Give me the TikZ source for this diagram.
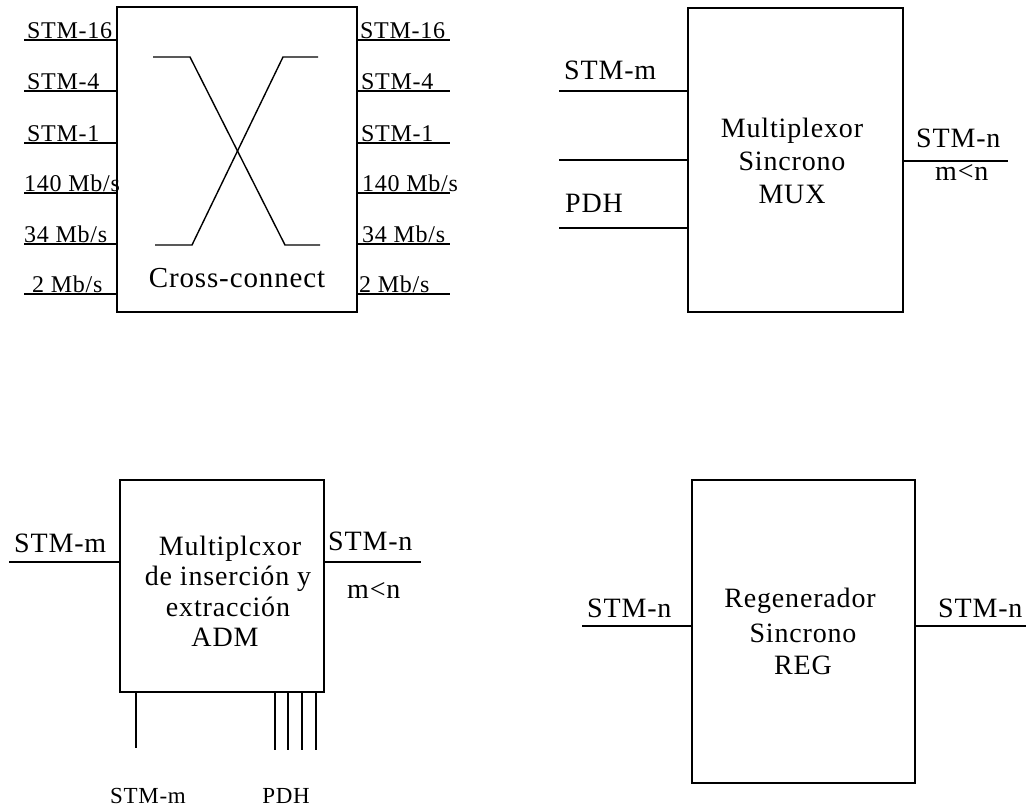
\documentclass[tikz,border=0pt]{standalone}
\usepackage{fontspec}
\setmainfont{Liberation Serif}[LetterSpace=3]
\newcommand{\fsport}{\fontsize{24}{28}\selectfont}
\newcommand{\fsbig}{\fontsize{28}{32}\selectfont}
\newcommand{\fscc}{\fontsize{29}{32}\selectfont}
\newcommand{\fsbot}{\fontsize{23}{27}\selectfont}
\begin{document}
\begin{tikzpicture}[x=1pt,y=-1pt,
  blk/.style={draw, line width=1.5pt, inner sep=0pt, fill=none},
  wire/.style={line width=1.4pt},
  portlbl/.style={inner sep=0pt, font=\fsport},
  biglbl/.style={inner sep=0pt, font=\fsbig},
  botlbl/.style={inner sep=0pt, font=\fsbot},
]
\useasboundingbox[fill=white] (0,0) rectangle (1033,811);

% ---------------- Cross-connect ----------------
\node[blk, minimum width=240pt, minimum height=305pt] (cc) at (237,159.5) {};
\foreach \y/\n in {40/1,91/2,143/3,193/4,244/5,294/6}{
  \coordinate (ccl\n) at (24,\y);
  \coordinate (ccr\n) at (450,\y);
  \draw[wire] (ccl\n) -- (ccl\n -| cc.west);
  \draw[wire] (cc.east |- ccr\n) -- (ccr\n);
}
\node[portlbl, anchor=base west] (ll1) at (27,38) {STM-16};
\node[portlbl, anchor=base west] (ll2) at (27,89) {STM-4};
\node[portlbl, anchor=base west] (ll3) at (27,141) {STM-1};
\node[portlbl, anchor=base west] (ll4) at (24,191) {140 Mb/s};
\node[portlbl, anchor=base west] (ll5) at (24,242) {34 Mb/s};
\node[portlbl, anchor=base west] (ll6) at (32,292) {2 Mb/s};
\node[portlbl, anchor=base west] (rl1) at (360,38) {STM-16};
\node[portlbl, anchor=base west] (rl2) at (361,89) {STM-4};
\node[portlbl, anchor=base west] (rl3) at (361,141) {STM-1};
\node[portlbl, anchor=base west] (rl4) at (362,191) {140 Mb/s};
\node[portlbl, anchor=base west] (rl5) at (362,242) {34 Mb/s};
\node[portlbl, anchor=base west] (rl6) at (359,292) {2 Mb/s};
\draw[wire] (153,57) -- (190,57) -- (285,245) -- (320,245);
\draw[wire] (155,245) -- (192,245) -- (283,57) -- (318,57);
\node[inner sep=0pt, font=\fscc, anchor=base] (cctxt) at (237,287) {Cross-connect};

% ---------------- MUX ----------------
\node[blk, minimum width=215pt, minimum height=304pt] (mux) at (795.5,160) {};
\coordinate (mi1) at (559,91);
\coordinate (mi2) at (559,160);
\coordinate (mi3) at (559,228);
\coordinate (mo) at (1008,161);
\draw[wire] (mi1) -- (mi1 -| mux.west);
\draw[wire] (mi2) -- (mi2 -| mux.west);
\draw[wire] (mi3) -- (mi3 -| mux.west);
\draw[wire] (mux.east |- mo) -- (mo);
\node[biglbl, anchor=base west] (muxa) at (564,79) {STM-m};
\node[biglbl, anchor=base west] (muxb) at (565,212) {PDH};
\node[biglbl, anchor=base west] (muxc) at (916,147) {STM-n};
\node[biglbl, anchor=base west] (muxd) at (935,180) {m<n};
\node[biglbl, anchor=base] (muxt1) at (792,137) {Multiplexor};
\node[biglbl, anchor=base] (muxt2) at (792,170) {Sincrono};
\node[biglbl, anchor=base] (muxt3) at (792,203) {MUX};

% ---------------- ADM ----------------
\node[blk, minimum width=204pt, minimum height=212pt] (adm) at (222,586) {};
\coordinate (ai) at (9,562);
\coordinate (ao) at (421,562);
\draw[wire] (ai) -- (ai -| adm.west);
\draw[wire] (adm.east |- ao) -- (ao);
\node[biglbl, anchor=base west] (adma) at (14,552) {STM-m};
\node[biglbl, anchor=base west] (admb) at (328,550) {STM-n};
\node[biglbl, anchor=base west] (admc) at (347,598) {m<n};
\node[biglbl, anchor=base] (admt1) at (230,555) {Multiplcxor};
\node[biglbl, anchor=base] (admt2) at (228,585) {de inserción y};
\node[biglbl, anchor=base] (admt3) at (228,616) {extracción};
\node[biglbl, anchor=base] (admt4) at (225,646) {ADM};
\coordinate (ab0) at (136,748);
\draw[wire] (adm.south -| ab0) -- (ab0);
\foreach \x/\n in {275/1,288/2,302/3,316/4}{
  \coordinate (ap\n) at (\x,750);
  \draw[wire] (adm.south -| ap\n) -- (ap\n);
}
\node[botlbl, anchor=base] (admd) at (148,803) {STM-m};
\node[botlbl, anchor=base] (adme) at (286,803) {PDH};

% ---------------- REG ----------------
\node[blk, minimum width=223pt, minimum height=303pt] (reg) at (803.5,631.5) {};
\coordinate (ri) at (582,626);
\coordinate (ro) at (1026,626);
\draw[wire] (ri) -- (ri -| reg.west);
\draw[wire] (reg.east |- ro) -- (ro);
\node[biglbl, anchor=base west] (rega) at (587,617) {STM-n};
\node[biglbl, anchor=base west] (regb) at (938,617) {STM-n};
\node[biglbl, anchor=base] (regt1) at (800,607) {Regenerador};
\node[biglbl, anchor=base] (regt2) at (803,642) {Sincrono};
\node[biglbl, anchor=base] (regt3) at (803,674) {REG};
\end{tikzpicture}
\end{document}
